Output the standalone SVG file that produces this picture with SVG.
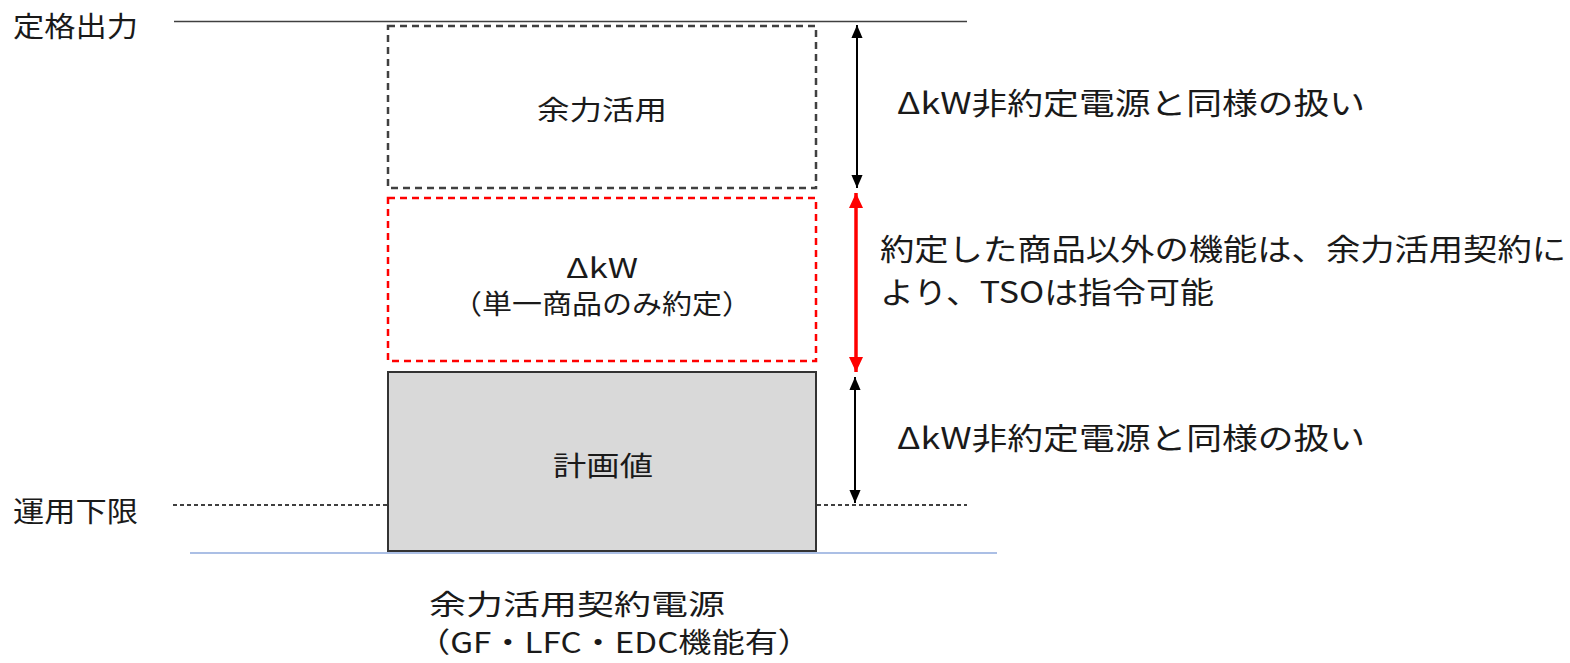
<svg xmlns="http://www.w3.org/2000/svg" width="1570" height="663" viewBox="0 0 1570 663">
<style>
text{font-family:"Noto Sans CJK JP","Noto Sans",sans-serif;fill:#1a1a1a;dominant-baseline:central}
.lbl{font-size:28px}
.box{font-size:27px}
.note{font-size:30px}
.cap{font-size:28px}
.dash{fill:none;stroke-width:2.5;stroke-dasharray:7 5}
</style>
<defs>
<marker id="ah" markerUnits="userSpaceOnUse" markerWidth="13" markerHeight="14" refX="14" refY="6.5" orient="auto-start-reverse" viewBox="0 0 14 13"><path d="M0,0.5 L14,6.5 L0,12.5 z" fill="#000"/></marker>
<marker id="ahr" markerUnits="userSpaceOnUse" markerWidth="15" markerHeight="15" refX="15" refY="7.5" orient="auto-start-reverse" viewBox="0 0 15 15"><path d="M0,0.5 L15,7.5 L0,14.5 z" fill="#ff0000"/></marker>
</defs>
<g id="levels">
<line x1="174" y1="21.5" x2="967" y2="21.5" stroke="#404040" stroke-width="1.5"/>
<line x1="173" y1="505" x2="967" y2="505" stroke="#000" stroke-width="1.5" stroke-dasharray="4 3"/>
<text class="lbl" x="13" y="25" textLength="125" lengthAdjust="spacingAndGlyphs">定格出力</text>
<text class="lbl" x="13" y="510" textLength="125" lengthAdjust="spacingAndGlyphs">運用下限</text>
</g>
<g id="node-yoryoku">
<rect class="dash" x="388" y="26" width="428" height="162" stroke="#404040"/>
<text class="box" x="602" y="108" text-anchor="middle" textLength="130" lengthAdjust="spacingAndGlyphs">余力活用</text>
</g>
<g id="node-dkw">
<rect class="dash" x="388" y="198" width="428" height="163" stroke="#ff0000"/>
<text class="box" x="602" y="266" text-anchor="middle" textLength="72" lengthAdjust="spacingAndGlyphs">ΔkW</text>
<text class="box" x="602" y="302" text-anchor="middle" textLength="300" lengthAdjust="spacingAndGlyphs">（単一商品のみ約定）</text>
</g>
<g id="node-keikaku">
<rect x="388" y="372" width="428" height="179" fill="#d9d9d9" stroke="#333" stroke-width="2"/>
<text class="box" x="603" y="464" text-anchor="middle" textLength="100" lengthAdjust="spacingAndGlyphs">計画値</text>
</g>
<line id="baseline" x1="190" y1="553" x2="997" y2="553" stroke="#8faadc" stroke-width="1.5"/>
<g id="connectors">
<line x1="857" y1="25" x2="857" y2="188" stroke="#000" stroke-width="2" marker-start="url(#ah)" marker-end="url(#ah)"/>
<line x1="856" y1="193" x2="856" y2="372" stroke="#ff0000" stroke-width="3.5" marker-start="url(#ahr)" marker-end="url(#ahr)"/>
<line x1="855" y1="377" x2="855" y2="503" stroke="#000" stroke-width="2" marker-start="url(#ah)" marker-end="url(#ah)"/>
</g>
<g id="notes">
<text class="note" x="897" y="101" textLength="468" lengthAdjust="spacingAndGlyphs">ΔkW非約定電源と同様の扱い</text>
<text class="note" x="880" y="247" textLength="686" lengthAdjust="spacingAndGlyphs">約定した商品以外の機能は、余力活用契約に</text>
<text class="note" x="880" y="290" textLength="334" lengthAdjust="spacingAndGlyphs">より、TSOは指令可能</text>
<text class="note" x="897" y="436" textLength="468" lengthAdjust="spacingAndGlyphs">ΔkW非約定電源と同様の扱い</text>
</g>
<g id="caption">
<text class="cap" x="429" y="603" textLength="296" lengthAdjust="spacingAndGlyphs">余力活用契約電源</text>
<text class="cap" x="417" y="641" textLength="394" lengthAdjust="spacingAndGlyphs">（GF・LFC・EDC機能有）</text>
</g>
</svg>
